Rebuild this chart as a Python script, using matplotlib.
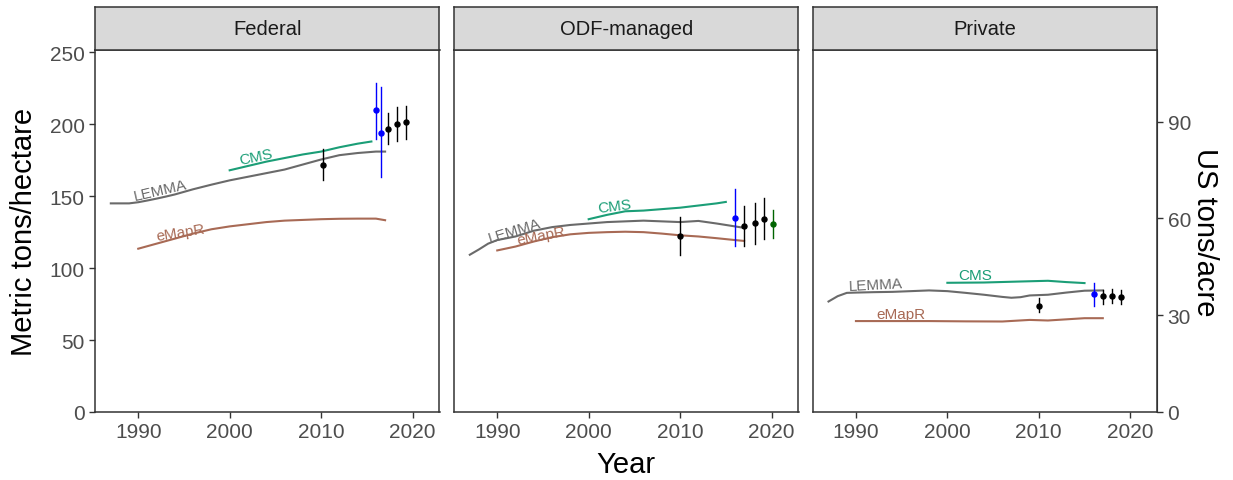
import matplotlib
matplotlib.use("Agg")
import matplotlib.pyplot as plt

plt.rcParams['font.family'] = ['Liberation Sans', 'DejaVu Sans']

panels = ['Federal', 'ODF-managed', 'Private']

# model curves (year, Mg/ha)
lemma_years = {
    'Federal': [1987, 1988, 1989, 1990, 1991, 1992, 1993, 1994, 1995, 1996, 1998, 2000, 2002, 2004, 2006, 2008, 2010, 2012, 2014, 2016, 2017],
    'ODF-managed': [1987, 1988, 1989, 1990, 1992, 1994, 1996, 1998, 2000, 2002, 2004, 2006, 2008, 2010, 2012, 2014, 2016, 2017],
    'Private': [1987, 1988, 1989, 1990, 1992, 1994, 1996, 1998, 2000, 2002, 2004, 2006, 2007, 2008, 2009, 2011, 2013, 2015, 2017],
}
lemma_vals = {
    'Federal': [145, 145, 145, 145.8, 147, 148.3, 149.7, 151.2, 153, 154.8, 158, 161, 163.5, 166, 168.5, 172, 175.5, 178.5, 180, 181, 181],
    'ODF-managed': [109.3, 113, 117, 119.5, 122, 126, 128.5, 130, 131, 132, 132.5, 133, 132.5, 132, 132.8, 131, 129, 128],
    'Private': [76.8, 80.5, 82.8, 83, 83.3, 83.5, 84, 84.5, 84, 82.8, 81.5, 80, 79.4, 79.8, 81, 81.5, 83, 84.3, 84.5],
}
cms_years = {
    'Federal': [2000, 2002, 2004, 2006, 2008, 2010, 2012, 2014, 2015.5],
    'ODF-managed': [2000, 2002, 2004, 2006, 2008, 2010, 2012, 2014, 2015],
    'Private': [2000, 2004, 2008, 2011, 2013, 2015],
}
cms_vals = {
    'Federal': [168, 171, 174, 176.5, 179, 181, 184, 186.5, 188],
    'ODF-managed': [134, 137, 139.5, 140, 141, 142, 143.5, 145, 146],
    'Private': [89.8, 90, 90.7, 91.2, 90.3, 89.6],
}
emapr_years = {
    'Federal': [1990, 1992, 1994, 1996, 1998, 2000, 2002, 2004, 2006, 2008, 2010, 2012, 2014, 2016, 2017],
    'ODF-managed': [1990, 1992, 1994, 1996, 1998, 2000, 2002, 2004, 2006, 2008, 2010, 2012, 2014, 2016, 2017],
    'Private': [1990, 1994, 1998, 2002, 2006, 2009, 2011, 2013, 2015, 2017],
}
emapr_vals = {
    'Federal': [113.5, 117, 120.5, 124, 127, 129, 130.5, 132, 133, 133.5, 134, 134.3, 134.4, 134.4, 133.3],
    'ODF-managed': [112.3, 115, 118.5, 121.5, 123.5, 124.5, 125, 125.3, 125, 124, 122.8, 122, 120.8, 119.5, 118.9],
    'Private': [63.2, 63.2, 63.2, 63, 62.9, 64, 63.6, 64.4, 65.2, 65.2],
}

# plot/inventory estimates with intervals
pt_years = {
    'Federal': [2010.2, 2016.0, 2016.5, 2017.3, 2018.3, 2019.3],
    'ODF-managed': [2010, 2016, 2017, 2018.2, 2019.2, 2020.2],
    'Private': [2010, 2016, 2017, 2018, 2019],
}
pt_mean = {
    'Federal': [172, 209.6, 194, 196.4, 200, 201.7],
    'ODF-managed': [122.3, 134.9, 129, 131.6, 134.4, 130.7],
    'Private': [74, 81.7, 80.3, 80.3, 79.6],
}
pt_lo = {
    'Federal': [161.5, 190, 163, 186, 188.7, 190],
    'ODF-managed': [108.8, 115.4, 115.4, 117, 120, 121.2],
    'Private': [69.6, 73.6, 75.2, 75.7, 75.2],
}
pt_hi = {
    'Federal': [183, 229, 226, 207.5, 211.7, 213],
    'ODF-managed': [135.6, 155.3, 143.2, 145.5, 148.8, 140.2],
    'Private': [79.4, 89.8, 84.5, 85.7, 84.5],
}
pt_src = {
    'Federal': ['FIA', 'LiDAR', 'LiDAR', 'FIA', 'FIA', 'FIA'],
    'ODF-managed': ['FIA', 'LiDAR', 'FIA', 'FIA', 'FIA', 'ODF'],
    'Private': ['FIA', 'LiDAR', 'FIA', 'FIA', 'FIA'],
}
src_colors = {'FIA': 'black', 'LiDAR': 'blue', 'ODF': '#006400'}

# curve label positions (year, Mg/ha, angle)
label_pos = {
    'Federal': {'LEMMA': (1992.4, 154, 13), 'CMS': (2002.9, 177.5, 12), 'eMapR': (1994.6, 125, 9)},
    'ODF-managed': {'LEMMA': (1991.9, 126.5, 17), 'CMS': (2002.8, 143.5, 7), 'eMapR': (1994.8, 123, 11)},
    'Private': {'LEMMA': (1992.2, 88.5, 3), 'CMS': (2003.0, 95.3, 0), 'eMapR': (1994.9, 68.2, 0)},
}
line_colors = {'LEMMA': '#6A6A6A', 'CMS': '#1B9E77', 'eMapR': '#A86A55'}

MGHA_TO_TONAC = 0.4461

W, H = 1233, 481
fig = plt.figure(figsize=(W / 100, H / 100), dpi=100)
lefts = [95, 454, 812.7]
pw = 344.5
top, bottom = 51, 413
strip_top = 8

frame_col = '#333333'
tick_col = '#4D4D4D'

axes = []
for i, name in enumerate(panels):
    ax = fig.add_axes([lefts[i] / W, (H - bottom) / H, pw / W, (bottom - top) / H])
    axes.append(ax)
    ax.plot(lemma_years[name], lemma_vals[name], color=line_colors['LEMMA'], lw=1.5)
    ax.plot(cms_years[name], cms_vals[name], color=line_colors['CMS'], lw=1.5)
    ax.plot(emapr_years[name], emapr_vals[name], color=line_colors['eMapR'], lw=1.5)
    for key, (lx, ly, ang) in label_pos[name].items():
        ax.text(lx, ly, key, color=line_colors[key], fontsize=11, rotation=ang,
                rotation_mode='anchor', ha='center', va='center')
    for x, m, lo, hi, s in zip(pt_years[name], pt_mean[name], pt_lo[name], pt_hi[name], pt_src[name]):
        c = src_colors[s]
        ax.plot([x, x], [lo, hi], color=c, lw=1.0)
        ax.plot(x, m, 'o', color=c, ms=3.6)
    ax.set_xlim(1985.27, 2022.95)
    ax.set_ylim(0, 251.6)
    ax.set_xticks([1990, 2000, 2010, 2020])
    ax.set_yticks([0, 50, 100, 150, 200, 250])
    ax.tick_params(colors=frame_col, labelcolor=tick_col, labelsize=15, length=4, width=1)
    if i > 0:
        ax.tick_params(axis='y', left=False, labelleft=False)
    for sp in ax.spines.values():
        sp.set_color(frame_col)
        sp.set_linewidth(1.1)

    # facet strip
    sax = fig.add_axes([lefts[i] / W, (H - top) / H, pw / W, (top - strip_top) / H])
    sax.set_facecolor('#D9D9D9')
    sax.set_xticks([])
    sax.set_yticks([])
    for sp in sax.spines.values():
        sp.set_color(frame_col)
        sp.set_linewidth(1.1)
    sax.text(0.5, 0.5, name, ha='center', va='center', fontsize=14.5, color='#1A1A1A',
             transform=sax.transAxes)

axes[0].set_ylabel('Metric tons/hectare', fontsize=21, labelpad=8)

sec = axes[2].secondary_yaxis('right', functions=(lambda v: v * MGHA_TO_TONAC,
                                                   lambda v: v / MGHA_TO_TONAC))
sec.set_yticks([0, 30, 60, 90])
sec.tick_params(colors=frame_col, labelcolor=tick_col, labelsize=15, length=4, width=1)
sec.spines['right'].set_color(frame_col)
sec.set_ylabel('US tons/acre', fontsize=21, rotation=270, labelpad=20)

fig.text((95 + 1157) / 2 / W, 1 - 465 / H, 'Year', ha='center', va='center', fontsize=21)

fig.savefig('out.png', dpi=100, facecolor='white')
